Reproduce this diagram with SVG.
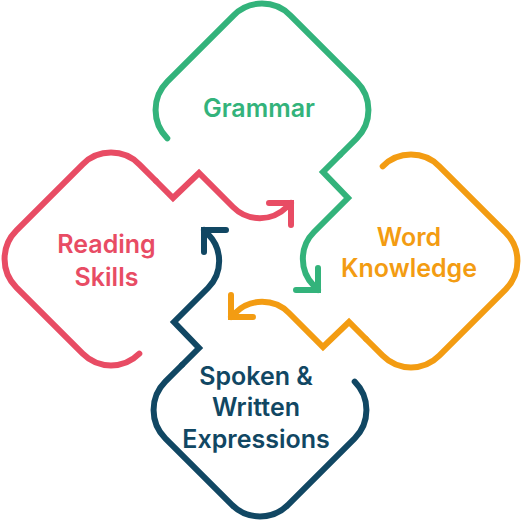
<svg xmlns="http://www.w3.org/2000/svg" xmlns:xlink="http://www.w3.org/1999/xlink" width="522" height="521" viewBox="0 0 522 521">
<style>
.line{fill:none;stroke-width:6;stroke-linecap:round;stroke-linejoin:miter}
.g{stroke:#33b37b}.r{stroke:#e84c64}.o{stroke:#f39c12}.n{stroke:#114763}
text{font-family:Inter,"Open Sans","Liberation Sans",sans-serif;font-weight:600;font-size:25px;text-anchor:middle}
.tg{fill:#33b37b}.tr{fill:#e84c64}.to{fill:#f39c12}.tn{fill:#114763}
</style>
<defs>
<path id="outline" d="M167.3 138.3 A40 40 0 0 1 167.3 81.7 L233.7 15.3 A40 40 0 0 1 290.3 15.3 L356.7 81.7 A40 40 0 0 1 356.7 138.3 L340 155"/>
<path id="link" d="M340 155 L323 172 L348 198 L314 232 A38 38 0 0 0 314 285.8 L318 290 M318 268 L318 290 L296 290"/>
</defs>
<g id="grammar">
<use href="#outline" xlink:href="#outline" class="line g"/>
<text class="tg" x="259" y="117">Grammar</text>
</g>
<g id="word-knowledge">
<use href="#outline" xlink:href="#outline" class="line o" transform="rotate(90 261 260)"/>
<text class="to" x="409" y="246">Word</text>
<text class="to" x="409" y="277">Knowledge</text>
</g>
<g id="spoken-written-expressions">
<use href="#outline" xlink:href="#outline" class="line n" transform="rotate(180 261 260)"/>
<text class="tn" x="256" y="385">Spoken &amp;</text>
<text class="tn" x="256" y="416">Written</text>
<text class="tn" x="256" y="448">Expressions</text>
</g>
<g id="reading-skills">
<use href="#outline" xlink:href="#outline" class="line r" transform="rotate(270 261 260)"/>
<text class="tr" x="106.5" y="253">Reading</text>
<text class="tr" x="106.5" y="286">Skills</text>
</g>
<g id="connectors">
<use href="#link" xlink:href="#link" class="line g"/>
<use href="#link" xlink:href="#link" class="line o" transform="rotate(90 261 260)"/>
<use href="#link" xlink:href="#link" class="line n" transform="rotate(180 261 260)"/>
<use href="#link" xlink:href="#link" class="line r" transform="rotate(270 261 260)"/>
</g>
</svg>
